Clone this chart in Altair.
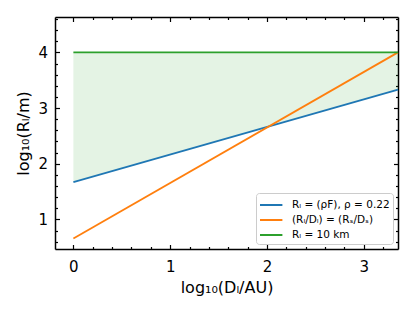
import altair as alt
import pandas as pd

# ---- data ----
x_pts = [0.0, 3.354]
blue_y = [1.67, 3.33]      # R_L = (rho F), rho = 0.22
orange_y = [0.66, 4.0]     # (R_L/D_L) = (R_S/D_S)
green_y = [4.0, 4.0]       # R_L = 10 km

series_labels = ["Rₗ = (ρF), ρ = 0.22", "(Rₗ/Dₗ) = (Rₛ/Dₛ)", "Rₗ = 10 km"]
series_colors = ["#1f77b4", "#ff7f0e", "#2ca02c"]

x_ticks = [0.0, 0.2, 0.4, 0.6, 0.8, 1.0, 1.2, 1.4, 1.6, 1.8, 2.0, 2.2, 2.4,
           2.6, 2.8, 3.0, 3.2]
y_ticks = [0.6, 0.8, 1.0, 1.2, 1.4, 1.6, 1.8, 2.0, 2.2, 2.4, 2.6, 2.8, 3.0,
           3.2, 3.4, 3.6, 3.8, 4.0, 4.2, 4.4, 4.6]
x_domain = [-0.19, 3.354]
y_domain = [0.47, 4.635]

x_title = "log₁₀(Dₗ/AU)"
y_title = "log₁₀(Rₗ/m)"

# ---- tables ----
rows = []
for lab, ys in zip(series_labels, [blue_y, orange_y, green_y]):
    for xv, yv in zip(x_pts, ys):
        rows.append({"series": lab, "x": xv, "y": yv})
line_df = pd.DataFrame(rows)
area_df = pd.DataFrame({"x": x_pts, "lo": blue_y, "hi": green_y})

FONT = "DejaVu Sans"
major = "abs(datum.value - round(datum.value)) < 0.001"
tick_size = {"expr": f"{major} ? -4.5 : -2.5"}
label_expr = f"{major} ? format(datum.value, 'd') : ''"


def make_axis(orient, values, title=None, labels=True, pad=0, tpad=4):
    kw = dict(orient=orient, values=values, tickSize=tick_size,
              tickColor="black", tickWidth=1.2, domain=True,
              domainColor="black", domainWidth=1.5, grid=False,
              labelOverlap=False, labelFlush=False)
    if labels:
        kw.update(labels=True, labelExpr=label_expr, labelFontSize=15,
                  labelFont=FONT, labelColor="black", labelPadding=pad,
                  title=title, titleFontSize=16, titleFont=FONT,
                  titleColor="black", titleFontWeight="normal",
                  titlePadding=tpad)
    else:
        kw.update(labels=False, title=None)
    return alt.Axis(**kw)


xs = alt.Scale(domain=x_domain, nice=False, zero=False)
ys = alt.Scale(domain=y_domain, nice=False, zero=False)

area = alt.Chart(area_df).mark_area(color="#2ca02c", opacity=0.13).encode(
    x=alt.X("x:Q", scale=xs, axis=make_axis("bottom", x_ticks, x_title, True, 15, 3)),
    y=alt.Y("lo:Q", scale=ys, axis=make_axis("left", y_ticks, y_title, True, 12, 6)),
    y2="hi:Q",
)

lines = alt.Chart(line_df).mark_line(strokeWidth=1.8).encode(
    x=alt.X("x:Q", scale=xs, axis=make_axis("top", x_ticks, labels=False)),
    y=alt.Y("y:Q", scale=ys, axis=make_axis("right", y_ticks, labels=False)),
    color=alt.Color(
        "series:N",
        sort=series_labels,
        scale=alt.Scale(domain=series_labels, range=series_colors),
        legend=alt.Legend(
            orient="bottom-right", title=None, symbolType="M-1,0H1.8",
            symbolStrokeWidth=2, symbolSize=256, labelFont=FONT,
            labelFontSize=10.5, labelColor="black", strokeColor="#cccccc",
            fillColor="white", cornerRadius=3, padding=3, rowPadding=0,
            labelOffset=15, offset=5,
        ),
    ),
)

chart = alt.layer(area, lines).resolve_axis(
    x="independent", y="independent"
).properties(
    width=343, height=232,
    autosize=alt.AutoSizeParams(type="none"),
    padding={"left": 47, "top": 9, "right": 9, "bottom": 55},
).configure_view(stroke=None).configure(background="white")

chart.save("out.html", embed_options={"renderer": "svg", "actions": False})
